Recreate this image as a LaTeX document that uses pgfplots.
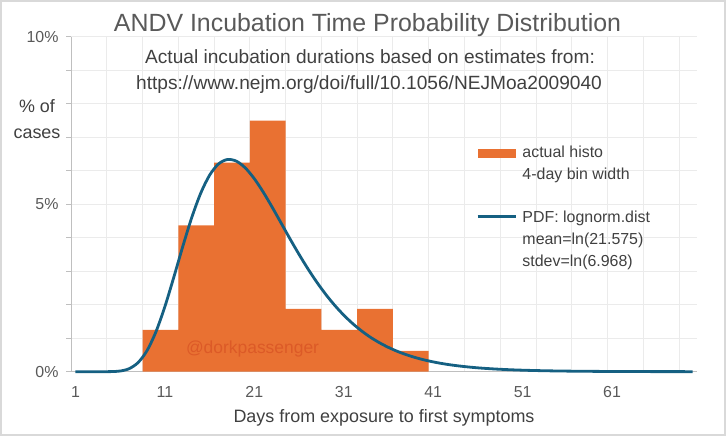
\documentclass[border=0pt]{standalone}
\usepackage{pgfplots}
\pgfplotsset{compat=1.18}
\usepackage{fontspec}
\setmainfont{Liberation Sans}
\definecolor{barorange}{HTML}{E97132}
\definecolor{curveblue}{HTML}{156082}
\definecolor{gridgray}{HTML}{EBEBEB}
\definecolor{axisgray}{HTML}{BFBFBF}
\definecolor{txtgray}{HTML}{595959}
\definecolor{darktxt}{HTML}{404040}
\definecolor{wm}{HTML}{DC5A27}
\definecolor{framegray}{HTML}{D9D9D9}
\begin{document}
\begin{tikzpicture}[x=1bp,y=1bp]
\useasboundingbox (0,0) rectangle (726,436);
\draw[framegray, line width=2bp] (1,1) rectangle (725,435);
\begin{axis}[
  at={(71bp,64.3bp)}, anchor=south west, scale only axis,
  width=626bp, height=334.7bp,
  xmin=0.5, xmax=70.5, ymin=0, ymax=10,
  clip=false,
  axis x line*=bottom, axis y line*=left,
  axis line style={-, draw=axisgray, line width=1bp},
  xtick={1,11,21,31,41,51,61},
  minor xtick={4.5,8.5,...,68.5},
  xminorgrids=true, xmajorgrids=false,
  ytick={0,5,10}, yticklabels={0\%,5\%,10\%},
  minor ytick={1,2,3,4,6,7,8,9},
  ymajorgrids=true, yminorgrids=true,
  major grid style={draw=gridgray, line width=1bp},
  minor grid style={draw=gridgray, line width=1bp},
  tick align=outside,
  major tick length=5bp, minor tick length=5bp,
  x tick style={draw=none},
  y tick style={draw=axisgray, line width=1bp},
  /pgf/number format/assume math mode=true,
  tick label style={font=\fontsize{16}{16}\selectfont, text=txtgray},
  xticklabel style={yshift=-6bp},
  yticklabel style={xshift=-4bp},
  xlabel={Days from exposure to first symptoms},
  xlabel style={font=\fontsize{18}{18}\selectfont, text=darktxt, at={(axis description cs:0.5,-0.138)}, anchor=center},
  ylabel={\% of\\cases},
  ylabel style={rotate=-90, align=center, font=\fontsize{18}{26}\selectfont, text=darktxt, at={(axis description cs:-0.0543,0.755)}, anchor=center},
  legend style={at={(axis description cs:0.6474,0.6905)}, anchor=north west, draw=none, fill=none, inner sep=0pt, outer sep=0pt, font=\fontsize{16}{22}\selectfont, text=darktxt, cells={anchor=base west, inner sep=0pt}, row sep=43.5bp, column sep=3bp},
]
\addplot[ybar interval, fill=barorange, draw=none,
  legend image code/.code={\fill[barorange] (0bp,0bp) rectangle (38.4bp,9.3bp);}]
  coordinates {(8.5,1.25) (12.5,4.375) (16.5,6.25) (20.5,7.5) (24.5,1.875) (28.5,1.25) (32.5,1.875) (36.5,0.625) (40.5,0)};
\addlegendentry{\begin{tabular}[t]{@{}l@{}}actual histo\\4-day bin width\end{tabular}}
\node[text=wm, font=\fontsize{17.5}{17.5}\selectfont] at (axis cs:20.8,0.69) {@dorkpassenger};
\addplot[curveblue, line width=2.8bp, smooth, mark=none,
  legend image code/.code={\draw[curveblue, line width=2.8bp] (0bp,5.7bp) -- (38.4bp,5.7bp);}]
  coordinates {
(1,0) (2,0) (3,0) (4,0.0001) (5,0.003) (6,0.020) (7,0.090) (8,0.272) (9,0.629) (10,1.193)
(11,1.946) (12,2.826) (13,3.742) (14,4.604) (15,5.330) (16,5.872) (17,6.208) (18,6.340) (19,6.289) (20,6.085)
(21,5.765) (22,5.364) (23,4.913) (24,4.439) (25,3.964) (26,3.505) (27,3.071) (28,2.670) (29,2.305) (30,1.979)
(31,1.690) (32,1.437) (33,1.217) (34,1.026) (35,0.864) (36,0.725) (37,0.607) (38,0.507) (39,0.423) (40,0.352)
(41,0.293) (42,0.243) (43,0.202) (44,0.168) (45,0.139) (46,0.115) (47,0.0955) (48,0.0791) (49,0.0655) (50,0.0542)
(51,0.045) (52,0.0372) (53,0.031) (54,0.0255) (55,0.021) (56,0.0175) (57,0.0145) (58,0.012) (59,0.010) (60,0.008)
(61,0.0067) (62,0.0055) (63,0.0046) (64,0.0038) (65,0.003) (66,0.0025) (67,0.002) (68,0.0017) (69,0.0014) (70,0.001)};
\addlegendentry{\begin{tabular}[t]{@{}l@{}}PDF: lognorm.dist\\mean=ln(21.575)\\stdev=ln(6.968)\end{tabular}}
\end{axis}
\node[anchor=base, text=txtgray, font=\fontsize{25}{25}\selectfont] at (367.5,404) {ANDV Incubation Time Probability Distribution};
\node[anchor=base, text=darktxt, font=\fontsize{19.2}{19.2}\selectfont] at (370,372) {Actual incubation durations based on estimates from:};
\node[anchor=base, text=darktxt, font=\fontsize{19.2}{19.2}\selectfont] at (369,346) {https://www.nejm.org/doi/full/10.1056/NEJMoa2009040};
\end{tikzpicture}
\end{document}
